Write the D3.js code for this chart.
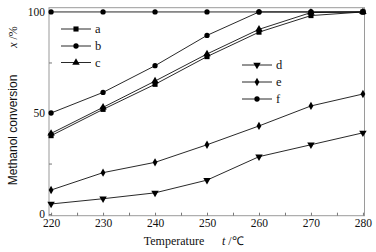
<!DOCTYPE html>
<html>
<head>
<meta charset="utf-8">
<script src="https://cdn.jsdelivr.net/npm/d3@7"></script>
<style>
    body { margin: 0; background: #fff; }
    svg { display: block; }
</style>
</head>
<body>
<script>
// values
var temps = [220, 230, 240, 250, 260, 270, 280];
var seriesA = [38.8, 51.8, 64.2, 77.9, 90.0, 98.2, 100];
var seriesB = [50.0, 60.2, 73.4, 88.4, 100, 100, 100];
var seriesC = [39.9, 52.8, 65.8, 79.2, 91.4, 99.7, 100];
var seriesD = [5.0, 7.6, 10.5, 16.8, 28.4, 34.3, 40.2];
var seriesE = [11.9, 20.5, 25.6, 34.3, 43.6, 53.5, 59.4];
var seriesF = [100, 100, 100, 100, 100, 100, 100];
var seriesNames = ["a", "b", "c", "d", "e", "f"];
var xTicks = [220, 225, 230, 235, 240, 245, 250, 255, 260, 265, 270, 275, 280];
var yTicks = [0, 25, 50, 75, 100];

// plot box (note: "top" is a reserved window global, so use a margin object)
var W = 376, H = 252;
var box = {left: 49, right: 364.5, top: 7.7, bottom: 215.7};

var svg = d3.select("body").append("svg")
    .attr("width", W)
    .attr("height", H);

var xScale = d3.scaleLinear().domain([219.6, 280.3]).range([box.left, box.right]);
var yScale = d3.scaleLinear().domain([-0.8, 102.1]).range([box.bottom, box.top]);

var serif = "'Liberation Serif', 'Times New Roman', serif";
var sans = "'Liberation Sans', Arial, sans-serif";

// frame
svg.append("rect")
    .attr("x", box.left).attr("y", box.top)
    .attr("width", box.right - box.left).attr("height", box.bottom - box.top)
    .attr("fill", "none")
    .attr("stroke", "#9a9a9a")
    .attr("stroke-width", 1);

// x axis, ticks pointing in
var xAxis = d3.axisBottom(xScale)
    .tickValues(xTicks)
    .tickSizeInner(-3)
    .tickSizeOuter(0)
    .tickPadding(3.5)
    .tickFormat(function(d) { return d % 10 === 0 ? d : ""; });

var gx = svg.append("g")
    .attr("transform", "translate(0," + box.bottom + ")")
    .call(xAxis);
gx.select(".domain").remove();
gx.selectAll("line").attr("stroke", "#777");
gx.selectAll("text")
    .attr("fill", "#111")
    .attr("font-family", serif)
    .attr("font-size", "11.5px");

// y axis
var yAxis = d3.axisLeft(yScale)
    .tickValues(yTicks)
    .tickSizeInner(-3)
    .tickSizeOuter(0)
    .tickPadding(4)
    .tickFormat(function(d) { return d % 50 === 0 ? d : ""; });

var gy = svg.append("g")
    .attr("transform", "translate(" + box.left + ",0)")
    .call(yAxis);
gy.select(".domain").remove();
gy.selectAll("line").attr("stroke", "#777");
gy.selectAll("text")
    .attr("fill", "#111")
    .attr("font-family", serif)
    .attr("font-size", "11.5px");

// axis titles
svg.append("text")
    .attr("transform", "translate(17,130) rotate(-90)")
    .attr("text-anchor", "middle")
    .attr("font-family", sans)
    .attr("font-size", "12px")
    .attr("fill", "#111")
    .text("Methanol conversion");

var yt = svg.append("text")
    .attr("transform", "translate(17,37) rotate(-90)")
    .attr("text-anchor", "middle")
    .attr("font-family", serif)
    .attr("font-size", "12px")
    .attr("fill", "#111");
yt.append("tspan").attr("font-style", "italic").text("x");
yt.append("tspan").text(" /%");

svg.append("text")
    .attr("x", 174).attr("y", 245)
    .attr("text-anchor", "middle")
    .attr("font-family", serif)
    .attr("font-size", "12px")
    .attr("fill", "#111")
    .text("Temperature");

var xt = svg.append("text")
    .attr("x", 222).attr("y", 245)
    .attr("font-family", serif)
    .attr("font-size", "12px")
    .attr("fill", "#111");
xt.append("tspan").attr("font-style", "italic").text("t");
xt.append("tspan").text(" /\u2103");

// series
var markers = {
    a: { type: d3.symbolSquare, size: 26, rot: 0 },
    b: { type: d3.symbolCircle, size: 22, rot: 0 },
    c: { type: d3.symbolTriangle, size: 24, rot: 0 },
    d: { type: d3.symbolTriangle, size: 24, rot: 180 },
    e: { type: d3.symbolDiamond, size: 20, rot: 0 },
    f: { type: d3.symbolCircle, size: 22, rot: 0 }
};
var allSeries = [seriesA, seriesB, seriesC, seriesD, seriesE, seriesF];

var line = d3.line()
    .x(function(d) { return xScale(d[0]); })
    .y(function(d) { return yScale(d[1]); });

allSeries.forEach(function(vals, i) {
    var name = seriesNames[i];
    var pts = temps.map(function(t, j) { return [t, vals[j]]; });
    var g = svg.append("g");
    g.append("path")
        .attr("d", line(pts))
        .attr("fill", "none")
        .attr("stroke", "#111")
        .attr("stroke-width", 0.9);
    g.selectAll("path.m")
        .data(pts)
        .enter()
        .append("path")
        .attr("class", "m")
        .attr("d", d3.symbol().type(markers[name].type).size(markers[name].size))
        .attr("transform", function(d) {
            return "translate(" + xScale(d[0]) + "," + yScale(d[1]) + ")" +
                " rotate(" + markers[name].rot + ")";
        })
        .attr("fill", "#000");
});

// legends: two blocks of three
var legendPos = [
    { x: 61, y: 29 }, { x: 61, y: 46 }, { x: 61, y: 62.5 },
    { x: 242, y: 65 }, { x: 242, y: 82 }, { x: 242, y: 99 }
];
seriesNames.forEach(function(name, i) {
    var p = legendPos[i];
    var g = svg.append("g").attr("transform", "translate(" + p.x + "," + p.y + ")");
    g.append("line")
        .attr("x1", 0).attr("x2", 30)
        .attr("stroke", "#111")
        .attr("stroke-width", 0.9);
    g.append("path")
        .attr("d", d3.symbol().type(markers[name].type).size(markers[name].size))
        .attr("transform", "translate(15,0) rotate(" + markers[name].rot + ")")
        .attr("fill", "#000");
    g.append("text")
        .attr("x", 34).attr("y", 4)
        .attr("font-family", serif)
        .attr("font-size", "12.5px")
        .attr("fill", "#111")
        .text(name);
});
</script>
</body>
</html>
